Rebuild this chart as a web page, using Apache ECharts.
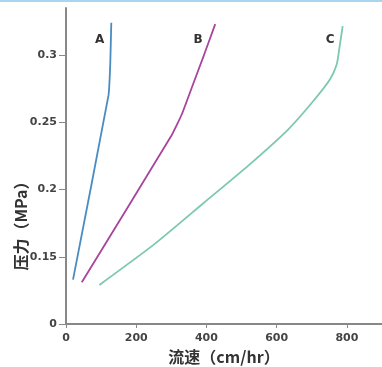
<!DOCTYPE html>
<html><head><meta charset="utf-8">
<script src="https://cdn.jsdelivr.net/npm/echarts@6/dist/echarts.min.js"></script>
<style>html,body{margin:0;padding:0;background:#fff}#c{width:382px;height:367px}</style>
</head><body><div id="c"></div>
<script>
// Flow rate (cm/hr) vs pressure (MPa)
const seriesA = [[20,0.133],[121,0.27],[126,0.293],[129,0.324]];
const seriesB = [[45,0.131],[300,0.240],[330,0.256],[360,0.277],[393,0.3],[425,0.323]];
const seriesC = [[95,0.129],[250,0.159],[392,0.19],[520,0.218],[634,0.245],[705,0.266],[752,0.282],[771,0.293],[778,0.304],[788,0.3215]];
const seriesNames = ['A','B','C'];
const labelPos = [[96,0.311],[376,0.311],[752,0.311]];
const xTicks = [0,200,400,600,800];
const yTicks = [0.1,0.15,0.2,0.25,0.3];   // 0.1 position is shown as "0" (broken axis)
const yTickLabels = ['0','0.15','0.2','0.25','0.3'];
const colors = ['#4a8cc0','#a9449a','#7cc8b2'];
const smoothing = [0.1, 0.1, 0.2];

const chart = echarts.init(document.getElementById('c'));
const datas = [seriesA, seriesB, seriesC];
chart.setOption({
  animation:false,
  backgroundColor:'#fff',
  grid:{left:66,right:0,top:8,bottom:43,outerBoundsMode:'none',containLabel:false},
  xAxis:{type:'value',min:0,max:900,
    name:'流速（cm/hr）',nameLocation:'middle',nameGap:23,
    nameTextStyle:{fontSize:16,color:'#333',fontWeight:'bold',fontFamily:'Noto Sans CJK SC'},
    axisLine:{lineStyle:{color:'#888',width:2}},
    axisTick:{show:true,length:4,lineStyle:{color:'#888'},customValues:xTicks},
    axisLabel:{customValues:xTicks,fontSize:11,color:'#444',fontWeight:'bold',fontFamily:'DejaVu Sans',margin:9},
    splitLine:{show:false}},
  yAxis:{type:'value',min:0.1,max:0.335,
    axisLine:{show:true,lineStyle:{color:'#888',width:2}},
    axisTick:{show:true,length:7,lineStyle:{color:'#888'},customValues:yTicks},
    axisLabel:{customValues:yTicks,fontSize:11,color:'#444',fontWeight:'bold',fontFamily:'DejaVu Sans',margin:9,
      formatter:function(v){const i=yTicks.findIndex(t=>Math.abs(t-v)<1e-9);return i>=0?yTickLabels[i]:'';}},
    splitLine:{show:false}},
  graphic:[
    {type:'rect',shape:{x:0,y:0,width:382,height:2},style:{fill:'#a9d5ef'}},
    {type:'text',x:21,y:222,rotation:Math.PI/2,style:{text:'压力（MPa）',font:'bold 16px "Noto Sans CJK SC"',fill:'#333',align:'center',verticalAlign:'middle'}}
  ],
  series: datas.map((d,i)=>({
    type:'line',name:seriesNames[i],data:d,showSymbol:false,smooth:smoothing[i],
    lineStyle:{color:colors[i],width:1.8},
    markPoint:{symbol:'circle',symbolSize:0,data:[{coord:labelPos[i],value:seriesNames[i]}],
      label:{show:true,position:'inside',formatter:seriesNames[i],fontSize:12,fontWeight:'bold',color:'#333',fontFamily:'DejaVu Sans'}}
  }))
});
</script></body></html>
